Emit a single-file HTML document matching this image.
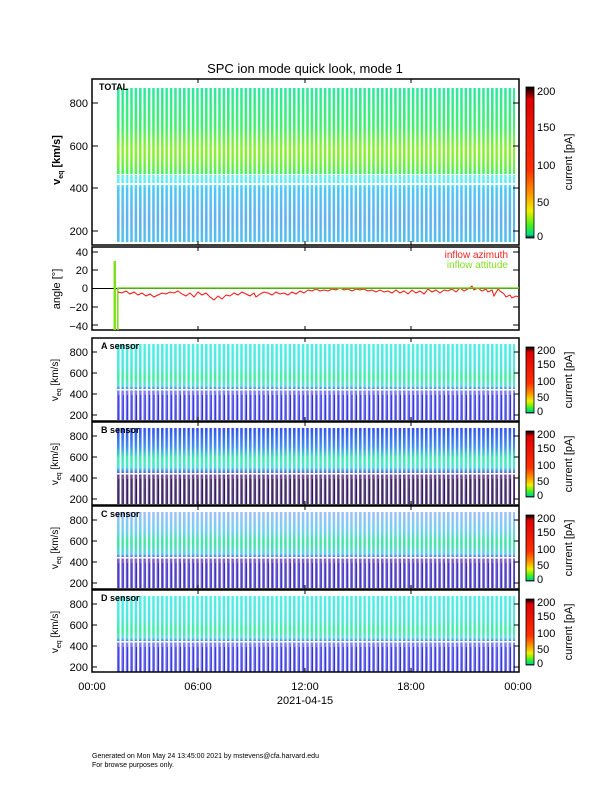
<!DOCTYPE html>
<html><head><meta charset="utf-8"><style>
html,body{margin:0;padding:0;background:#fff}
svg{display:block;font-family:"Liberation Sans",sans-serif}
</style></head><body>
<svg width="612" height="792" viewBox="0 0 612 792" xmlns="http://www.w3.org/2000/svg">
<defs>
<pattern id="st" x="117" y="0" width="4.4" height="10" patternUnits="userSpaceOnUse"><rect x="2.6" y="0" width="1.8" height="10" fill="#fff"/></pattern>
<pattern id="bl" x="117" y="0" width="4.4" height="10" patternUnits="userSpaceOnUse"><rect x="1.4" y="0" width="0.9" height="10" fill="#2020e0"/></pattern>
<pattern id="bk" x="117" y="0" width="4.4" height="10" patternUnits="userSpaceOnUse"><rect x="1.4" y="0" width="0.9" height="10" fill="#201040"/></pattern>
<linearGradient id="gT" x1="0" y1="88" x2="0" y2="242" gradientUnits="userSpaceOnUse">
<stop offset="0" stop-color="#30e8a0"/><stop offset="0.25" stop-color="#40f070"/><stop offset="0.4" stop-color="#90f030"/><stop offset="0.5" stop-color="#70f040"/><stop offset="0.56" stop-color="#40f060"/><stop offset="0.57" stop-color="#70f0f0"/><stop offset="0.62" stop-color="#60e8f8"/><stop offset="0.65" stop-color="#50c8f8"/><stop offset="0.85" stop-color="#60b0f0"/><stop offset="1" stop-color="#50c0f0"/>
</linearGradient>
<linearGradient id="gA" x1="0" y1="0" x2="0" y2="1">
<stop offset="0" stop-color="#50f0e8"/><stop offset="0.3" stop-color="#50e8e0"/><stop offset="0.45" stop-color="#40f0a0"/><stop offset="0.55" stop-color="#60e0e0"/><stop offset="0.6" stop-color="#4070f0"/><stop offset="0.62" stop-color="#8080f0"/><stop offset="1" stop-color="#7070e8"/>
</linearGradient>
<linearGradient id="gB" x1="0" y1="0" x2="0" y2="1">
<stop offset="0" stop-color="#3050f0"/><stop offset="0.25" stop-color="#4090f0"/><stop offset="0.4" stop-color="#40f0b0"/><stop offset="0.52" stop-color="#50e0e0"/><stop offset="0.6" stop-color="#5050e0"/><stop offset="0.62" stop-color="#705090"/><stop offset="1" stop-color="#604890"/>
</linearGradient>
<linearGradient id="gC" x1="0" y1="0" x2="0" y2="1">
<stop offset="0" stop-color="#a0c0f8"/><stop offset="0.25" stop-color="#70d0f0"/><stop offset="0.4" stop-color="#40e8a0"/><stop offset="0.55" stop-color="#60d0f0"/><stop offset="0.6" stop-color="#5060e8"/><stop offset="0.62" stop-color="#8060c0"/><stop offset="1" stop-color="#7060c0"/>
</linearGradient>
<linearGradient id="cb" x1="0" y1="1" x2="0" y2="0">
<stop offset="0" stop-color="#000"/><stop offset="0.02" stop-color="#00d890"/><stop offset="0.08" stop-color="#40f020"/><stop offset="0.18" stop-color="#f0f000"/><stop offset="0.3" stop-color="#ff9000"/><stop offset="0.45" stop-color="#ff3000"/><stop offset="0.92" stop-color="#e00000"/><stop offset="0.98" stop-color="#300000"/><stop offset="1" stop-color="#000"/>
</linearGradient>
</defs>

<text x="305" y="73" font-size="13" text-anchor="middle">SPC ion mode quick look, mode 1</text>

<!-- TOP panel -->
<rect x="117" y="88" width="398" height="154" fill="url(#gT)"/>
<rect x="117" y="88" width="398" height="154" fill="url(#st)"/>
<rect x="117" y="183" width="398" height="2" fill="#fff"/>
<rect x="117" y="174" width="398" height="1" fill="#fff"/>
<rect x="92" y="79" width="427" height="166" fill="none" stroke="#000" stroke-width="1.5"/>
<text x="99" y="90" font-size="9" font-weight="bold">TOTAL</text>
<g font-size="11" text-anchor="end">
<text x="88" y="107">800</text><text x="88" y="150">600</text><text x="88" y="192">400</text><text x="88" y="235">200</text></g>
<g stroke="#000" stroke-width="1">
<path d="M92 103h6M92 146h6M92 188h6M92 231h6M519 103h-6M519 146h-6M519 188h-6M519 231h-6"/>
<path d="M198 79v4M305 79v4M411 79v4M198 245v-4M305 245v-4M411 245v-4"/>
</g>
<text transform="translate(60,160) rotate(-90)" font-size="11" text-anchor="middle" font-weight="bold">v<tspan font-size="7" dy="3">eq</tspan><tspan dy="-3"> [km/s]</tspan></text>
<rect x="526" y="87" width="8" height="151" fill="url(#cb)" stroke="#000" stroke-width="0.8"/>
<g font-size="11"><text x="537" y="95">200</text><text x="537" y="131">150</text><text x="537" y="169">100</text><text x="537" y="206">50</text><text x="537" y="240">0</text></g>
<text transform="translate(572,162) rotate(-90)" font-size="11" text-anchor="middle">current [pA]</text>

<!-- angle panel -->
<rect x="92" y="247" width="427" height="83" fill="none" stroke="#000" stroke-width="1.5"/>
<line x1="92" y1="288.5" x2="519" y2="288.5" stroke="#000"/>
<g stroke="#000"><path d="M92 252h6M92 270h6M92 307h6M92 325h6M519 252h-6M519 270h-6M519 307h-6M519 325h-6M198 247v4M305 247v4M411 247v4M198 330v-4M305 330v-4M411 330v-4"/></g>
<rect x="113.5" y="261" width="2.5" height="69" fill="#80e020"/>
<rect x="117" y="288" width="1.6" height="42" fill="#80e020"/>
<polyline fill="none" stroke="#ff1010" stroke-width="1" points="118,292 122,293 126,291 130,294 134,292 138,295 142,293 146,296 150,294 154,297 158,295 162,293 166,294 170,292 174,293 178,291 182,294 186,296 190,293 194,297 198,292 202,295 206,293 210,297 214,300 218,296 222,299 226,295 230,296 234,293 238,295 242,292 246,294 250,296 254,293 256,297 260,294 264,292 268,293 272,295 276,292 280,294 284,293 288,295 292,292 296,294 300,291 304,293 308,290 312,291 316,289 320,291 324,290 328,291 332,289 336,290 340,288 344,290 348,289 352,291 356,289 360,290 364,289 368,291 372,290 376,292 380,290 384,292 388,291 392,293 396,290 400,293 404,291 408,294 412,290 416,293 420,291 424,294 428,289 432,292 436,290 440,293 444,290 448,291 452,289 456,292 460,288 464,291 468,289 472,286 474,290 478,288 482,291 486,289 488,292 492,290 494,296 498,289 500,291 504,294 506,297 510,295 512,298 516,296 519,297"/>
<line x1="117" y1="288" x2="519" y2="288" stroke="#70e020" stroke-width="1.5"/>
<text x="508" y="258" font-size="10" fill="#ff2020" text-anchor="end">inflow azimuth</text>
<text x="508" y="268" font-size="10" fill="#80e020" text-anchor="end">inflow attitude</text>
<g font-size="11" text-anchor="end"><text x="88" y="256">40</text><text x="88" y="274">20</text><text x="88" y="292">0</text><text x="88" y="311">−20</text><text x="88" y="330">−40</text></g>
<text transform="translate(60,289) rotate(-90)" font-size="11" text-anchor="middle">angle [°]</text>

<!-- sensor panels -->
<g>
<rect x="117" y="344" width="398" height="76" fill="url(#gA)"/><rect x="117" y="395" width="398" height="25" fill="url(#bl)"/>
<rect x="117" y="344" width="398" height="76" fill="url(#st)"/><rect x="117" y="389" width="398" height="1.5" fill="#fff"/>
<rect x="92" y="338" width="427" height="83" fill="none" stroke="#000" stroke-width="1.5"/>
<text x="101" y="349" font-size="9" font-weight="bold">A sensor</text>
</g>
<g>
<rect x="117" y="428" width="398" height="76" fill="url(#gB)"/><rect x="117" y="479" width="398" height="25" fill="url(#bk)"/>
<rect x="117" y="428" width="398" height="76" fill="url(#st)"/><rect x="117" y="473" width="398" height="1.5" fill="#fff"/>
<rect x="92" y="422" width="427" height="83" fill="none" stroke="#000" stroke-width="1.5"/>
<text x="101" y="433" font-size="9" font-weight="bold">B sensor</text>
</g>
<g>
<rect x="117" y="512" width="398" height="76" fill="url(#gC)"/><rect x="117" y="563" width="398" height="25" fill="url(#bl)"/>
<rect x="117" y="512" width="398" height="76" fill="url(#st)"/><rect x="117" y="557" width="398" height="1.5" fill="#fff"/>
<rect x="92" y="506" width="427" height="83" fill="none" stroke="#000" stroke-width="1.5"/>
<text x="101" y="517" font-size="9" font-weight="bold">C sensor</text>
</g>
<g>
<rect x="117" y="596" width="398" height="76" fill="url(#gA)"/><rect x="117" y="647" width="398" height="25" fill="url(#bl)"/>
<rect x="117" y="596" width="398" height="76" fill="url(#st)"/><rect x="117" y="641" width="398" height="1.5" fill="#fff"/>
<rect x="92" y="590" width="427" height="82" fill="none" stroke="#000" stroke-width="1.5"/>
<text x="101" y="601" font-size="9" font-weight="bold">D sensor</text>
</g>
<g stroke="#000">
<path d="M92 352h5M92 373h5M92 394h5M92 415h5M519 352h-5M519 373h-5M519 394h-5M519 415h-5"/>
<path d="M92 436h5M92 457h5M92 478h5M92 499h5M519 436h-5M519 457h-5M519 478h-5M519 499h-5"/>
<path d="M92 520h5M92 541h5M92 562h5M92 583h5M519 520h-5M519 541h-5M519 562h-5M519 583h-5"/>
<path d="M92 604h5M92 625h5M92 646h5M92 667h5M519 604h-5M519 625h-5M519 646h-5M519 667h-5"/>
<path d="M198 338v4M305 338v4M411 338v4M198 421v-4M305 421v-4M411 421v-4M198 422v4M305 422v4M411 422v4M198 505v-4M305 505v-4M411 505v-4M198 506v4M305 506v4M411 506v4M198 589v-4M305 589v-4M411 589v-4M198 590v4M305 590v4M411 590v4M198 672v-4M305 672v-4M411 672v-4"/>
</g>
<g font-size="11" text-anchor="end">
<text x="88" y="356">800</text><text x="88" y="377">600</text><text x="88" y="398">400</text><text x="88" y="419">200</text>
<text x="88" y="440">800</text><text x="88" y="461">600</text><text x="88" y="482">400</text><text x="88" y="503">200</text>
<text x="88" y="524">800</text><text x="88" y="545">600</text><text x="88" y="566">400</text><text x="88" y="587">200</text>
<text x="88" y="608">800</text><text x="88" y="629">600</text><text x="88" y="650">400</text><text x="88" y="671">200</text>
</g>
<g font-size="10" text-anchor="middle">
<text transform="translate(58,380) rotate(-90)">v<tspan font-size="7" dy="3">eq</tspan><tspan dy="-3"> [km/s]</tspan></text>
<text transform="translate(58,464) rotate(-90)">v<tspan font-size="7" dy="3">eq</tspan><tspan dy="-3"> [km/s]</tspan></text>
<text transform="translate(58,548) rotate(-90)">v<tspan font-size="7" dy="3">eq</tspan><tspan dy="-3"> [km/s]</tspan></text>
<text transform="translate(58,632) rotate(-90)">v<tspan font-size="7" dy="3">eq</tspan><tspan dy="-3"> [km/s]</tspan></text>
</g>
<g>
<rect x="526" y="347" width="8" height="66" fill="url(#cb)" stroke="#000" stroke-width="0.8"/>
<rect x="526" y="431" width="8" height="66" fill="url(#cb)" stroke="#000" stroke-width="0.8"/>
<rect x="526" y="515" width="8" height="66" fill="url(#cb)" stroke="#000" stroke-width="0.8"/>
<rect x="526" y="599" width="8" height="66" fill="url(#cb)" stroke="#000" stroke-width="0.8"/>
</g>
<g font-size="11">
<text x="537" y="354">200</text><text x="537" y="368">150</text><text x="537" y="385">100</text><text x="537" y="401">50</text><text x="537" y="415">0</text>
<text x="537" y="438">200</text><text x="537" y="452">150</text><text x="537" y="469">100</text><text x="537" y="485">50</text><text x="537" y="499">0</text>
<text x="537" y="522">200</text><text x="537" y="536">150</text><text x="537" y="553">100</text><text x="537" y="569">50</text><text x="537" y="583">0</text>
<text x="537" y="606">200</text><text x="537" y="620">150</text><text x="537" y="637">100</text><text x="537" y="653">50</text><text x="537" y="667">0</text>
</g>
<g font-size="11" text-anchor="middle">
<text transform="translate(572,380) rotate(-90)">current [pA]</text>
<text transform="translate(572,464) rotate(-90)">current [pA]</text>
<text transform="translate(572,548) rotate(-90)">current [pA]</text>
<text transform="translate(572,632) rotate(-90)">current [pA]</text>
</g>

<g font-size="11" text-anchor="middle">
<text x="92" y="690">00:00</text><text x="198" y="690">06:00</text><text x="305" y="690">12:00</text><text x="411" y="690">18:00</text><text x="518" y="690">00:00</text>
<text x="305" y="704">2021-04-15</text>
</g>
<g font-size="7">
<text x="92" y="758">Generated on Mon May 24 13:45:00 2021 by mstevens@cfa.harvard.edu</text>
<text x="92" y="767">For browse purposes only.</text>
</g>
</svg>
</body></html>
